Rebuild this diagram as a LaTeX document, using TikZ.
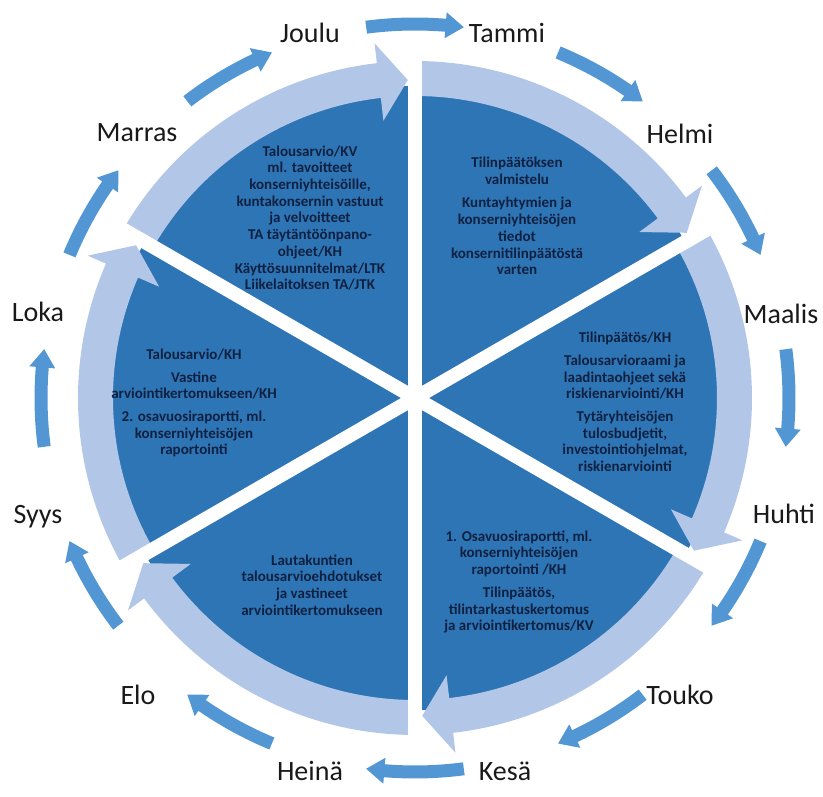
\documentclass[tikz,border=0pt]{standalone}
\usepackage{fontspec}
\setmainfont{Carlito}
\definecolor{darkblue}{RGB}{46,117,182}
\definecolor{bandblue}{RGB}{178,198,231}
\definecolor{arrowblue}{RGB}{82,151,212}
\definecolor{navytext}{RGB}{16,32,64}
\definecolor{monthtext}{RGB}{25,25,25}
\begin{document}
\begin{tikzpicture}[x=1pt,y=1pt,
  month/.style={font=\fontsize{28}{30}\selectfont, text=monthtext, inner sep=0pt, text height=18pt, text depth=0pt},
  sectortext/.style={font=\fontsize{15}{16.7}\selectfont\bfseries, text=navytext, align=center, inner sep=0pt},
  disk/.style={fill=darkblue},
  band/.style={fill=bandblue},
  gapline/.style={draw=white, line width=14pt},
  montharrow/.style={fill=arrowblue}]
\path[use as bounding box] (0,0) rectangle (823,797);
\begin{scope}[shift={(415,399)}]
  % dark pie
  \fill[disk] (0,0) circle[radius=312pt];
  % light curved band arrows, one per sector
  \foreach \a in {90,30,-30,-90,-150,-210}{
    \pgfmathsetmacro\b{\a-60}
    \pgfmathsetmacro\t{\b+1.3}
    \pgfmathsetmacro\h{\b+6.5}
    \fill[band] (\a:337pt) arc[start angle=\a, end angle=\h, radius=337pt]
      -- (\h:357pt) -- (\t:318pt) -- (\h:279pt) -- (\h:302pt)
      arc[start angle=\h, end angle=\a, radius=302pt] -- cycle;
  }
  % white gaps between sectors
  \foreach \a in {90,30,150}
    \draw[gapline] (\a:342pt) -- (\a+180:342pt);
  % small month arrows
  \foreach \c in {90,60,...,-240}{
    \pgfmathsetmacro\s{\c+7.5}
    \pgfmathsetmacro\e{\c-7.5}
    \pgfmathsetmacro\h{\c-7.5+2.8}
    \fill[montharrow] (\s:380.5pt) arc[start angle=\s, end angle=\h, radius=380.5pt]
      -- (\h:387pt) -- (\e:374pt) -- (\h:361pt) -- (\h:367.5pt)
      arc[start angle=\h, end angle=\s, radius=367.5pt] -- cycle;
  }
\end{scope}
% month labels
\node[month] (joulu)  at (310,763) {Joulu};
\node[month] (tammi)  at (507,763) {Tammi};
\node[month] (helmi)  at (680,662) {Helmi};
\node[month] (maalis) at (781,482) {Maalis};
\node[month] (huhti)  at (784,282) {Huhti};
\node[month] (touko)  at (680,101) {Touko};
\node[month] (kesa)   at (505,25)  {Kesä};
\node[month] (heina)  at (310,25)  {Heinä};
\node[month] (elo)    at (138,101) {Elo};
\node[month] (syys)   at (38,282)  {Syys};
\node[month] (loka)   at (38,484)  {Loka};
\node[month] (marras) at (137,664) {Marras};
% sector texts
\node[sectortext] (s6) at (310,579) {Talousarvio/KV\\ml. tavoitteet\\konserniyhteisöille,\\kuntakonsernin vastuut\\ja velvoitteet\\TA täytäntöönpano-\\ohjeet/KH\\Käyttösuunnitelmat/LTK\\Liikelaitoksen TA/JTK};
\node[sectortext] (s1) at (517,581) {Tilinpäätöksen\\valmistelu\\[7pt]Kuntayhtymien ja\\konserniyhteisöjen\\tiedot\\konsernitilinpäätöstä\\varten};
\node[sectortext] (s5) at (194,394) {Talousarvio/KH\\[6pt]Vastine\\arviointikertomukseen/KH\\[6pt]2. osavuosiraportti, ml.\\konserniyhteisöjen\\raportointi};
\node[sectortext] (s2) at (625,395) {Tilinpäätös/KH\\[6pt]Talousarvioraami ja\\laadintaohjeet sekä\\riskienarviointi/KH\\[6pt]Tytäryhteisöjen\\tulosbudjetit,\\investointiohjelmat,\\riskienarviointi};
\node[sectortext] (s4) at (312,212) {Lautakuntien\\talousarvioehdotukset\\ja vastineet\\arviointikertomukseen};
\node[sectortext] (s3) at (519,215) {1. Osavuosiraportti, ml.\\konserniyhteisöjen\\raportointi /KH\\[6pt]Tilinpäätös,\\tilintarkastuskertomus\\ja arviointikertomus/KV};
\end{tikzpicture}
\end{document}
